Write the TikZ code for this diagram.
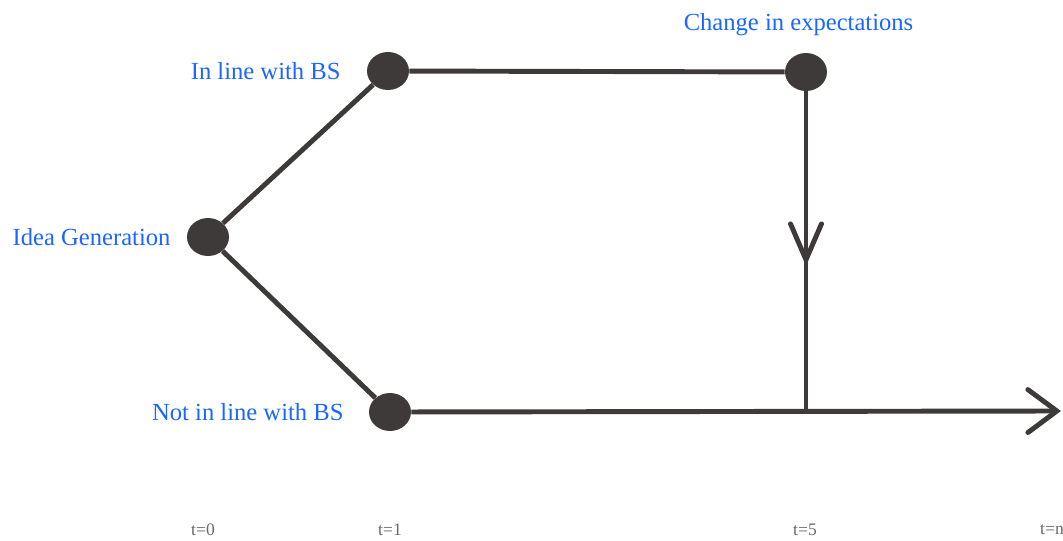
\documentclass[tikz,border=0pt]{standalone}
\usepackage{fontspec}
\setmainfont{Liberation Serif}
\usetikzlibrary{shapes.geometric, arrows.meta, positioning}
\definecolor{labelblue}{RGB}{26, 102, 255}
\definecolor{linegray}{RGB}{62, 58, 58}
\definecolor{timegray}{RGB}{105, 105, 105}
\tikzstyle{event} = [ellipse, minimum width=0.84cm, minimum height=0.76cm, inner sep=0pt, fill=linegray]
\tikzstyle{eventtext} = [text=labelblue, font=\fontsize{14}{16}\selectfont]
\tikzstyle{timetext} = [text=timegray, font=\fontsize{10}{12}\selectfont]
\tikzstyle{branch} = [line width=2.8pt, draw=linegray]
\tikzstyle{arrow} = [branch, -{Straight Barb[length=0.72cm, width=0.62cm, line cap=round]}]
\tikzstyle{endarrow} = [branch, -{Straight Barb[length=0.58cm, width=0.86cm, line cap=round]}]

\begin{document}
\begin{tikzpicture}[x=0.02cm, y=-0.02cm]
      \useasboundingbox (0,0) rectangle (1063,541);
      \node[event] (idea) at (208,237) {};
      \node[event] (inline) at (388,71) {};
      \node[event] (change) at (806,72) {};
      \node[event] (notin) at (390,412) {};
      \coordinate (mid) at (806,266);
      \coordinate (turn) at (806,411);
      \coordinate (end) at (1061,411);

      \node[eventtext, left=0.2cm of idea] (ideatext) {Idea Generation};
      \node[eventtext, left=0.4cm of inline] (inlinetext) {In line with BS};
      \node[eventtext, left=0.38cm of notin] (notintext) {Not in line with BS};
      \node[eventtext, above=0.22cm of change, xshift=-0.15cm] (changetext) {Change in expectations};

      \node[timetext] (t0) at (203,530) {t=0};
      \node[timetext] (t1) at (390,530) {t=1};
      \node[timetext] (t5) at (805,530) {t=5};
      \node[timetext] (tn) at (1052,530) {t=n};

      \draw[branch] (idea) -- (inline);
      \draw[branch] (idea) -- (notin);
      \draw[branch] (inline) -- (change);
      \draw[branch] (change) -- (turn);
      \draw[arrow] (change) -- (mid);
      \draw[endarrow] (notin) -- (end);
    \end{tikzpicture}
\end{document}
